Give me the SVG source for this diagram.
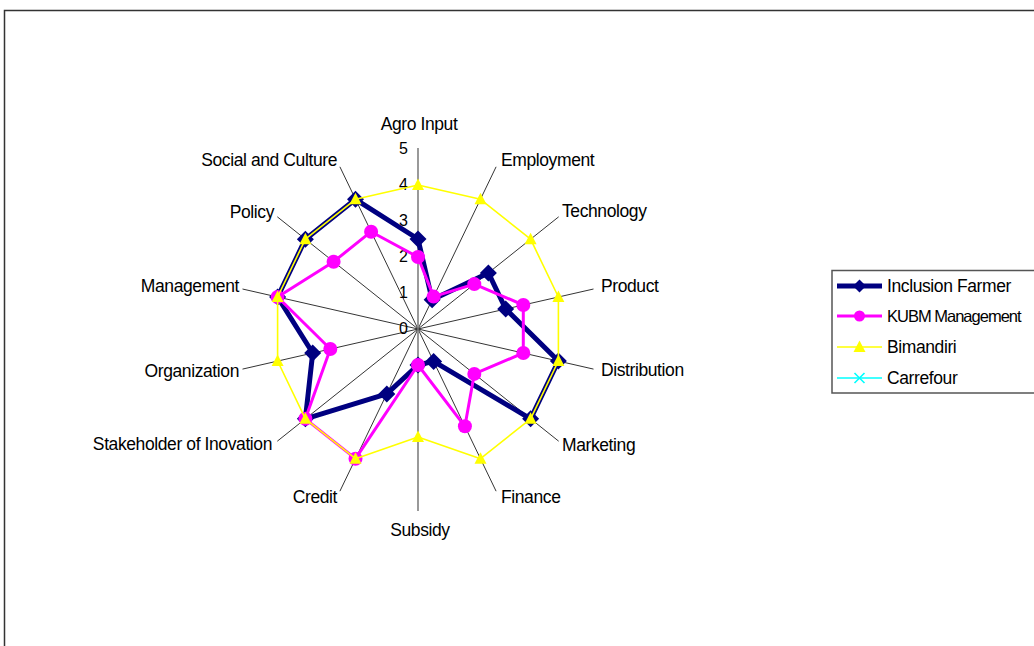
<svg xmlns="http://www.w3.org/2000/svg" width="1034" height="646" viewBox="0 0 1034 646">
  <style>
    .lbl { font-family: "Liberation Sans", Arial, sans-serif; font-size: 17.5px; letter-spacing: -0.4px; fill: #000; }
    .lbl-tight { font-family: "Liberation Sans", Arial, sans-serif; font-size: 16.5px; letter-spacing: -1px; fill: #000; }
    .tick { font-family: "Liberation Sans", Arial, sans-serif; font-size: 16px; fill: #000; }
    .axis { stroke: #000; stroke-width: 0.8; fill: none; }
    .vaxis { stroke: #808080; stroke-width: 1.6; fill: none; }
    .s1 { stroke: #000080; stroke-width: 5; fill: none; stroke-linejoin: round; }
    .s2 { stroke: #FF00FF; stroke-width: 3; fill: none; stroke-linejoin: round; }
    .s3 { stroke: #FFFF00; stroke-width: 1.6; fill: none; stroke-linejoin: round; }
    .s4 { stroke: #00FFFF; stroke-width: 1.6; fill: none; }
  </style>
  <defs>
    <path id="dia" d="M0,-8.5 L8.5,0 L0,8.5 L-8.5,0 Z" fill="#000080"/>
    <path id="dia-s" d="M0,-6.5 L6.5,0 L0,6.5 L-6.5,0 Z" fill="#000080"/>
    <circle id="dot" r="7" fill="#FF00FF"/>
    <circle id="dot-s" r="5.5" fill="#FF00FF"/>
    <path id="tri" d="M0,-6.5 L6,5 L-6,5 Z" fill="#FFFF00"/>
    <path id="cross" d="M-5,-5 L5,5 M-5,5 L5,-5" stroke="#00FFFF" stroke-width="1.6"/>
  </defs>

  <rect width="1034" height="646" fill="#fff"/>
  <!-- chart area frame -->
  <path d="M4.5,650 V10.5 H1040" fill="none" stroke="#333" stroke-width="1.5"/>

  <!-- radar spokes -->
  <g id="connectors">
    <line class="axis" x1="418" y1="329" x2="496.1" y2="166.8"/>
    <line class="axis" x1="418" y1="329" x2="558.7" y2="216.8"/>
    <line class="axis" x1="418" y1="329" x2="593.5" y2="289"/>
    <line class="axis" x1="418" y1="329" x2="593.5" y2="369.1"/>
    <line class="axis" x1="418" y1="329" x2="558.7" y2="441.2"/>
    <line class="axis" x1="418" y1="329" x2="496.1" y2="491.2"/>
    <line class="axis" x1="418" y1="329" x2="339.9" y2="491.2"/>
    <line class="axis" x1="418" y1="329" x2="277.3" y2="441.2"/>
    <line class="axis" x1="418" y1="329" x2="242.5" y2="369.1"/>
    <line class="axis" x1="418" y1="329" x2="242.5" y2="289"/>
    <line class="axis" x1="418" y1="329" x2="277.3" y2="216.8"/>
    <line class="axis" x1="418" y1="329" x2="339.9" y2="166.8"/>
    <line class="vaxis" x1="418" y1="148" x2="418" y2="511"/>
  </g>

  <!-- value scale -->
  <g id="scale">
    <text class="tick" x="408" y="154" text-anchor="end">5</text>
    <text class="tick" x="408" y="190" text-anchor="end">4</text>
    <text class="tick" x="408" y="226" text-anchor="end">3</text>
    <text class="tick" x="408" y="262" text-anchor="end">2</text>
    <text class="tick" x="408" y="298" text-anchor="end">1</text>
    <text class="tick" x="408" y="334" text-anchor="end">0</text>
  </g>

  <!-- category labels -->
  <g id="labels">
    <text class="lbl" x="419" y="130" text-anchor="middle">Agro Input</text>
    <text class="lbl" x="501" y="166">Employment</text>
    <text class="lbl" x="562" y="217">Technology</text>
    <text class="lbl" x="601" y="292">Product</text>
    <text class="lbl" x="601" y="376">Distribution</text>
    <text class="lbl" x="562" y="451">Marketing</text>
    <text class="lbl" x="501" y="503">Finance</text>
    <text class="lbl" x="420" y="536" text-anchor="middle">Subsidy</text>
    <text class="lbl" x="337" y="503" text-anchor="end">Credit</text>
    <text class="lbl" x="272" y="450" text-anchor="end">Stakeholder of Inovation</text>
    <text class="lbl" x="239" y="377" text-anchor="end">Organization</text>
    <text class="lbl" x="239" y="292" text-anchor="end">Management</text>
    <text class="lbl" x="274" y="218" text-anchor="end">Policy</text>
    <text class="lbl" x="337" y="166" text-anchor="end">Social and Culture</text>
  </g>

  <!-- series: Inclusion Farmer -->
  <g id="inclusion-farmer">
    <polygon class="s1" points="418,239 432.1,299.8 488.4,272.9 505.7,309 558.4,361 530.6,418.8 433.6,361.4 418,365 386.8,393.9 305.4,418.8 312.7,353 277.6,297 305.4,239.2 355.5,199.3"/>
    <use href="#dia" x="418" y="239"/>
    <use href="#dia" x="432.1" y="299.8"/>
    <use href="#dia" x="488.4" y="272.9"/>
    <use href="#dia" x="505.7" y="309"/>
    <use href="#dia" x="558.4" y="361"/>
    <use href="#dia" x="530.6" y="418.8"/>
    <use href="#dia" x="433.6" y="361.4"/>
    <use href="#dia" x="418" y="365"/>
    <use href="#dia" x="386.8" y="393.9"/>
    <use href="#dia" x="305.4" y="418.8"/>
    <use href="#dia" x="312.7" y="353"/>
    <use href="#dia" x="277.6" y="297"/>
    <use href="#dia" x="305.4" y="239.2"/>
    <use href="#dia" x="355.5" y="199.3"/>
  </g>

  <!-- series: KUBM Management -->
  <g id="kubm-management">
    <polygon class="s2" points="418,257 433.6,296.6 474.3,284.1 523.3,305 523.3,353 474.3,373.9 464.9,426.3 418,365 355.5,458.7 305.4,418.8 330.3,349 277.6,297 333.6,261.7 371.1,231.7"/>
    <use href="#dot" x="418" y="257"/>
    <use href="#dot" x="433.6" y="296.6"/>
    <use href="#dot" x="474.3" y="284.1"/>
    <use href="#dot" x="523.3" y="305"/>
    <use href="#dot" x="523.3" y="353"/>
    <use href="#dot" x="474.3" y="373.9"/>
    <use href="#dot" x="464.9" y="426.3"/>
    <use href="#dot" x="418" y="365"/>
    <use href="#dot" x="355.5" y="458.7"/>
    <use href="#dot" x="305.4" y="418.8"/>
    <use href="#dot" x="330.3" y="349"/>
    <use href="#dot" x="277.6" y="297"/>
    <use href="#dot" x="333.6" y="261.7"/>
    <use href="#dot" x="371.1" y="231.7"/>
  </g>

  <!-- series: Bimandiri -->
  <g id="bimandiri">
    <polygon class="s3" points="418,185 480.5,199.3 530.6,239.2 558.4,297 558.4,361 530.6,418.8 480.5,458.7 418,437 355.5,458.7 305.4,418.8 277.6,361 277.6,297 305.4,239.2 355.5,199.3"/>
    <use href="#tri" x="418" y="185"/>
    <use href="#tri" x="480.5" y="199.3"/>
    <use href="#tri" x="530.6" y="239.2"/>
    <use href="#tri" x="558.4" y="297"/>
    <use href="#tri" x="558.4" y="361"/>
    <use href="#tri" x="530.6" y="418.8"/>
    <use href="#tri" x="480.5" y="458.7"/>
    <use href="#tri" x="418" y="437"/>
    <use href="#tri" x="355.5" y="458.7"/>
    <use href="#tri" x="305.4" y="418.8"/>
    <use href="#tri" x="277.6" y="361"/>
    <use href="#tri" x="277.6" y="297"/>
    <use href="#tri" x="305.4" y="239.2"/>
    <use href="#tri" x="355.5" y="199.3"/>
  </g>

  <!-- legend -->
  <g id="legend">
    <rect x="832" y="270.5" width="220" height="122.5" fill="#fff" stroke="#555" stroke-width="1.5"/>
    <line class="s1" x1="837" y1="286" x2="882" y2="286" stroke-width="4"/>
    <use href="#dia-s" x="859.5" y="286"/>
    <text class="lbl" x="887" y="292">Inclusion Farmer</text>
    <line class="s2" x1="837" y1="316" x2="882" y2="316"/>
    <use href="#dot-s" x="859.5" y="316"/>
    <text class="lbl-tight" x="887" y="322">KUBM Management</text>
    <line class="s3" x1="837" y1="347" x2="882" y2="347"/>
    <use href="#tri" x="859.5" y="347"/>
    <text class="lbl" x="887" y="353">Bimandiri</text>
    <line class="s4" x1="837" y1="378" x2="882" y2="378"/>
    <use href="#cross" x="859.5" y="378"/>
    <text class="lbl" x="887" y="384">Carrefour</text>
  </g>
</svg>
